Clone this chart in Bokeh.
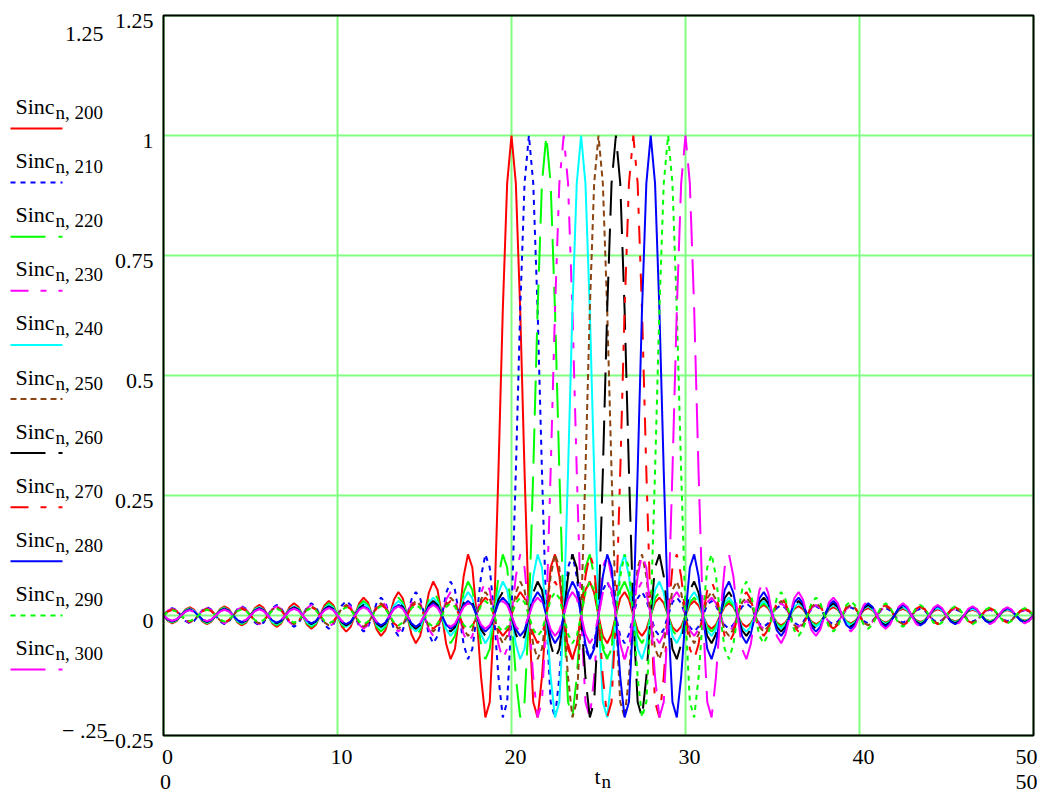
import numpy as np
from bokeh.plotting import figure
from bokeh.models import Range1d
from bokeh.embed import file_html
from bokeh.resources import INLINE
from bokeh.core.properties import value

# Sinc profile, at offsets 0, 0.25, 0.5, ... 30 from a peak
sinc_profile = [
    1.0, 0.9003, 0.6366, 0.3001, 0.0, -0.1801, -0.2122, -0.1286,
    0.0, 0.1000, 0.1273, 0.0818, 0.0, -0.0693, -0.0909, -0.0600,
    0.0, 0.0530, 0.0707, 0.0474, 0.0, -0.0429, -0.0579, -0.0391,
    0.0, 0.0360, 0.0490, 0.0333, 0.0, -0.0310, -0.0424, -0.0290,
    0.0, 0.0273, 0.0374, 0.0257, 0.0, -0.0243, -0.0335, -0.0231,
    0.0, 0.0220, 0.0303, 0.0209, 0.0, -0.0200, -0.0277, -0.0192,
    0.0, 0.0184, 0.0255, 0.0177, 0.0, -0.0170, -0.0236, -0.0164,
    0.0, 0.0158, 0.0220, 0.0153, 0.0, -0.0148, -0.0205, -0.0143,
    0.0, 0.0139, 0.0193, 0.0134, 0.0, -0.0130, -0.0182, -0.0127,
    0.0, 0.0123, 0.0172, 0.0120, 0.0, -0.0117, -0.0163, -0.0114,
    0.0, 0.0111, 0.0155, 0.0108, 0.0, -0.0106, -0.0148, -0.0103,
    0.0, 0.0101, 0.0141, 0.0099, 0.0, -0.0097, -0.0135, -0.0095,
    0.0, 0.0093, 0.0130, 0.0091, 0.0, -0.0089, -0.0125, -0.0087,
    0.0, 0.0086, 0.0120, 0.0084, 0.0, -0.0083, -0.0116, -0.0081,
    0.0, 0.0080, 0.0112, 0.0078, 0.0, -0.0077, -0.0108, -0.0076,
    0.0,
]
profile_step = 0.25

t_n = np.arange(0, 50 + profile_step / 2, profile_step)

series_columns = ["200", "210", "220", "230", "240", "250", "260", "270", "280", "290", "300"]
series_centers = [20, 21, 22, 23, 24, 25, 26, 27, 28, 29, 30]
series_colors = ["#ff0000", "#0000ff", "#00ff00", "#ff00ff", "#00ffff", "#8b4513",
                 "#000000", "#ff0000", "#0000ff", "#00ff00", "#ff00ff"]
series_dashes = ["solid", "5 5", "35 13", "18 12 6 12", "solid", "6 4",
                 "35 13", "18 12 6 12", "solid", "5 5", "35 13"]

x_ticks = [0, 10, 20, 30, 40, 50]
x_tick_labels = ["0", "10", "20", "30", "40", "50"]
y_ticks = [-0.25, 0, 0.25, 0.5, 0.75, 1, 1.25]
y_tick_labels = ["\u22120.25", "0", "0.25", "0.5", "0.75", "1", "1.25"]
x_lim = [0, 50]
y_lim = [-0.25, 1.25]

# ---------------- geometry (picture pixels of the plot frame) ----------------
CW, CH = 1039, 794              # canvas size
OX, OY = 0, 0                   # canvas origin in the picture
F_L, F_R, F_T, F_B = 163, 1033, 15, 735
sx = (F_R - F_L) / (x_lim[1] - x_lim[0])
sy = (F_B - F_T) / (y_lim[1] - y_lim[0])
x_start = x_lim[0] - (F_L - OX) / sx
x_end = x_start + CW / sx
y_end = y_lim[1] + (F_T - OY) / sy
y_start = y_end - CH / sy


def px(X):  # picture x pixel -> data x
    return x_lim[0] + (X - F_L) / sx


def py(Y):  # picture y pixel -> data y
    return y_lim[1] - (Y - F_T) / sy


FONT = value("Liberation Serif")
prof = np.array(sinc_profile)

p = figure(width=CW, height=CH, x_range=Range1d(x_start, x_end), y_range=Range1d(y_start, y_end),
           x_axis_type=None, y_axis_type=None, title=None, min_border=0,
           output_backend="svg", toolbar_location=None)
p.outline_line_color = None
p.background_fill_color = "white"
p.border_fill_color = "white"
p.grid.visible = False

# grid lines at the tick positions
p.segment(x0=x_ticks, x1=x_ticks, y0=[y_lim[0]] * len(x_ticks), y1=[y_lim[1]] * len(x_ticks),
          line_color="#80ff80", line_width=2)
p.segment(x0=[x_lim[0]] * len(y_ticks), x1=[x_lim[1]] * len(y_ticks), y0=y_ticks, y1=y_ticks,
          line_color="#80ff80", line_width=2)

# traces
for c, col, dash in zip(series_centers, series_colors, series_dashes):
    idx = np.rint(np.abs(t_n - c) / profile_step).astype(int)
    p.line(t_n, prof[idx], line_color=col, line_width=2, line_dash=dash)

# plot frame
p.quad(left=[x_lim[0]], right=[x_lim[1]], bottom=[y_lim[0]], top=[y_lim[1]],
       fill_color=None, line_color="black", line_width=2)

# tick labels
p.text(x=[px(153)] * len(y_ticks), y=[t - 5 / sy for t in y_ticks], text=y_tick_labels,
       text_font=FONT, text_font_size=value("22px"), text_align="right",
       text_baseline="middle", text_color="black")
p.text(x=[t + 4 / sx for t in x_ticks[:-1]], y=[py(756)] * (len(x_ticks) - 1),
       text=x_tick_labels[:-1], text_font=FONT, text_font_size=value("22px"),
       text_align="center", text_baseline="middle", text_color="black")
p.text(x=[px(1037)], y=[py(756)], text=x_tick_labels[-1:], text_font=FONT,
       text_font_size=value("22px"), text_align="right", text_baseline="middle",
       text_color="black")

# Mathcad range labels and axis name
p.text(x=[px(103)], y=[py(33)], text=["1.25"], text_font=FONT, text_font_size=value("22px"),
       text_align="right", text_baseline="middle", text_color="black")
p.text(x=[px(107)], y=[py(730)], text=["\u2212 .25"], text_font=FONT, text_font_size=value("22px"),
       text_align="right", text_baseline="middle", text_color="black")
p.text(x=[px(165)], y=[py(781)], text=["0"], text_font=FONT, text_font_size=value("22px"),
       text_align="center", text_baseline="alphabetic", text_color="black")
p.text(x=[px(1037)], y=[py(781)], text=["50"], text_font=FONT, text_font_size=value("22px"),
       text_align="right", text_baseline="alphabetic", text_color="black")
p.text(x=[px(594)], y=[py(776)], text=["t"], text_font=FONT, text_font_size=value("22px"),
       text_align="left", text_baseline="alphabetic", text_color="black")
p.text(x=[px(601)], y=[py(781)], text=["n"], text_font=FONT, text_font_size=value("19px"),
       text_align="left", text_baseline="alphabetic", text_color="black")

# legend (label above a line sample)
for i, (lab, col, dash) in enumerate(zip(series_columns, series_colors, series_dashes)):
    ly = 128 + 54.1 * i
    p.line([px(10), px(62)], [py(ly), py(ly)], line_color=col, line_width=2, line_dash=dash)
    p.text([px(15)], [py(ly - 22)], text=["Sinc"], text_font=FONT, text_font_size=value("22px"),
           text_baseline="alphabetic", text_align="left", text_color="black")
    p.text([px(55)], [py(ly - 16)], text=["n, " + lab], text_font=FONT, text_font_size=value("19px"),
           text_baseline="alphabetic", text_align="left", text_color="black")

open("out.html", "w").write(file_html(p, INLINE))
